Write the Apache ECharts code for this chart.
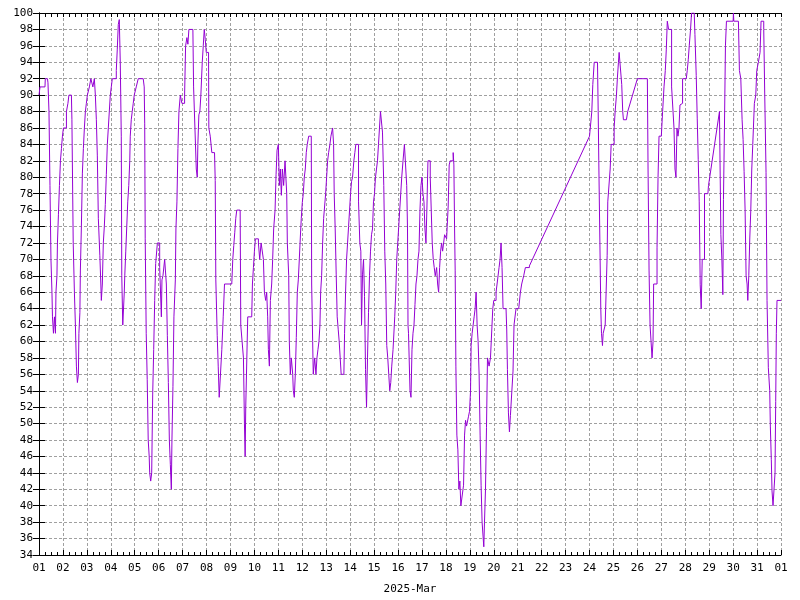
<!DOCTYPE html>
<html>
<head>
<meta charset="utf-8">
<script src="https://cdn.jsdelivr.net/npm/echarts@6/dist/echarts.min.js"></script>
<style>
html,body{margin:0;padding:0;background:#fff;}
#chart{width:800px;height:600px;}
</style>
</head>
<body>
<div id="chart"></div>
<script>
// Day tick labels (March 2025, then April 1)
const dayLabels = ['01','02','03','04','05','06','07','08','09','10','11','12','13','14','15','16',
  '17','18','19','20','21','22','23','24','25','26','27','28','29','30','31','01'];
const axisName = '2025-Mar';

// Hours since 2025-03-01 00:00
const hours = [
0,1,6,6.3,8.5,9,10,11,12,13,13.5,14.5,15.5,16.5,17,18,18.5,19.5,20.5,21.5,22.5,23.5,24.5,26.5,27.5,29,30,32.5,33,34.3,
35.5,36.5,37.5,38.5,39.5,40,41,41.5,42.5,43.5,44.5,45.5,46.5,47.5,48.5,50.5,52,54,55.5,56.5,57.5,58.5,59.5,60.5,61,62,62.5,63.5,
64.5,65.5,66.5,67.5,68.5,69.5,70.5,71.5,72.5,73.5,77.5,78.5,79.5,80.5,81.5,82.5,83,84,85.5,86,87,88,89,90,91,91.5,92.5,93.5,
94.5,95.5,97.5,99.5,104.5,105.5,106,106.5,107.5,108.5,109.5,110.5,111,112,113,114,115,116,117,118.7,121,122.7,123.3,124.3,
126,127.7,128.7,129.7,130.7,131.7,132.7,133.3,134.3,135.3,136.7,137.3,138.3,139.3,140.3,141.7,143.3,146,147,148.3,149.3,150.3,
154.3,155,157,157.7,158.7,159.3,160.3,161.3,162.3,163.7,164.7,165.7,166.7,167.7,170,170.3,171.7,173.3,176,176.7,177.3,178.7,
179.7,180.7,182.7,183.3,184.7,186,193.3,194.3,195.3,196.3,197.3,198.3,201.7,202.3,204.3,205,206,206.7,207.3,208.3,209.3,213.3,
214,215,216,217,220,221.3,222.7,224.3,225,226,227.3,228.3,229.3,230,231,232,233.3,234.3,235.3,236.7,237.7,238.7,240,241,242,
243,244,245.3,246.7,247.7,248.4,249,250.4,251,252,253,254.4,255,256,257,258,259,260,261,262,263,264,265,266,267,268,269,270.4,
273,273.4,274.4,275,276.4,277.7,278.7,279.7,280.7,281.7,282.4,283.4,284.4,285.4,286.4,287.4,288.4,289.4,290.4,291.7,292.7,
294.4,295.4,296,297,298,299,300,301,302,303,305.7,306.4,307.4,308.4,309.4,310.4,311.4,312.4,313.4,314.4,315.7,316.7,317.7,
319.4,320.4,321.7,322.7,323.4,324.4,325.4,326.4,327.4,328.4,329.4,330.4,331.4,332.4,333.4,334.4,335.4,336.4,337.4,338.4,
339.4,340.4,341.4,342.4,343.7,344.4,345.7,346.7,347.7,348.7,349.7,350.7,351.7,352.7,353.7,355,356.7,357.7,358.7,359.7,360.7,
361.7,362.7,363.7,365,366.4,368,368.7,369.5,370,370.5,372,373,374,375,376,377,378,379,380,381,382,383,384,385,386,387,388,
389,390,391.3,392.3,393.3,394.3,395.3,396.3,397.3,398.7,399.7,400.7,401.7,402.7,403.7,404.7,405.7,406.7,408.7,409.3,410.3,
411.3,412.3,413.3,414.3,415.3,416,416.7,417.3,418,419,420,421,422,423,425,425.7,426.7,427.7,428.7,429.7,430.7,431.7,432.7,
433.3,434.3,435.3,436.3,437.3,438.3,439.3,440.3,441.3,442.3,443.3,444.3,445.3,446,446.7,447.7,448.7,449.7,450.7,451.3,452.7,
454.3,455,456,457.3,458.3,459.3,461.3,462.3,463.3,464.3,465.3,468.3,469,469.7,470.7,471.7,472.7,474.7,475.3,476.3,478.3,481,
482.7,484,486,487.7,491.7,552,553.7,554.3,555.3,556.7,560,560.7,561.3,562.7,563.3,564,565,565.7,567.7,568.7,569.7,570.3,572,
572.7,573.7,575.7,576.7,577.7,579,580,581,581.7,583.7,584.3,585.3,586,589,590.3,600,610,610.7,611.7,612.7,613.7,614.7,615.7,
616.3,618,619.7,620.7,621.7,624,625.3,626.7,628,629,630,631.3,633.3,634.3,636,636.7,637.7,638.7,639.7,640.7,641.7,642.7,644,
645.3,649,650,651,652,653.3,654.3,657,657.7,659,660,661,662,663,664,665,666.3,667.3,670.7,671.3,682.3,683,683.7,684.7,685.7,
686.3,687.3,688.3,689.3,696,696.3,696.7,701.3,702.3,703.7,705,706,707,708,709,710,710.7,711.7,712.7,713.7,714.7,715.7,717.3,
718.7,719.7,721.3,723,724,725.7,726.7,727.7,729,730,731.3,732.7,733.3,734.3,735,736,737.3,738,738.7,739.3,740,744
];

// Relative humidity (%) at those hours
const humidity = [
90,91,91,92,92,91.5,88,79,70,66,63,61,63,61,66,68,72,75.5,79,82,83.5,85,86,86,88,89,90,90,87,72,
66,62,57,55,56,61,63.5,68.7,74,80.5,83.5,86,88,89,90,91,92,91,92,90,87,82.6,75,75,70.5,67,65,67,
72,74,76.7,80.3,84,86,88,90,91,92,93,95.6,98.6,99.2,94,85,68,62,66,68,71,74,77,79,82,85,87,88,
89,90,91,92,92,91,86.5,72.5,61,55.4,48,46,44,43,44,53.6,59,65,69.5,72,69,63,67.5,68,
70,67,60.7,55,48,45,42,48,54.5,63,67.5,73.7,77,83.5,88,90,89,90,96,97,96.2,98,
98,91,91,81,80,84,87.6,88,90,94,96,98,96.8,95.2,95.2,86,85,83,83,79.6,67.5,60.7,
57,53.2,53.2,59,63,67,67,70,71.7,73.3,75,76,76,62,62,58,50,46,52,57.5,63,63,
67,69,71,72.5,72,70,72,72,70,66,65,66,63,59,57,65,67,70,73.7,76,80.3,83.3,84,79,81,
77.8,81,79,82,82,78,72,68,60,56,58,56,54,53.2,56,60.5,66,67.5,70,72.6,75,76.9,78,80,81,83,84,85,
85,67,60,56,58,56,58,59,60,62,66,68,72,75,76.5,78,80,82,83,84,85,
86,84,78,73.7,68.2,63,61.5,60,58,56,56,61,66,70,72,74,76,78,79.5,80,82,83,84,
84,77,72,71,62,68.2,70,65.5,56.6,52,58,63.5,68,71,73,73.7,77,78,80,81,
82,84,86,88,88,85.5,79,71,67,59.5,58,56,54,55,57,59,63,66,70,72,74,
76,78,80,82,84,84,79,73.7,62,61,54,53.2,59,61,62,64.5,67,68,70,71,76,79,80,78,77,73.7,72,
76.5,82,82,80,76,72,70,69,68,69,67,66,69,71,72,71,72,73,72.5,74,76.5,
81.5,82,81.8,82,83,81.5,73.7,68.6,57,48.6,46.8,42,43,40,40,42.5,48.6,50.4,49.7,49.5,50.9,51.5,54,
59.5,61,62,63,64,66,62,60,56,48.6,42.5,38,36.2,35,38,42,49.5,58,58,57,58,
58,64,65,65,66,67,69,70,72,69,64,64,61.4,56.6,51.3,49,51,51,56.4,62,64,64,
66,67,68,69,69.2,85,85,88,91.3,94,94,88,82,82,64,61,59.5,61,62,62,70.5,77,77,
81,84,84,86,88,90,92.2,94,95.2,95.2,91.3,88,87,87,88,92,92,81,68.7,62,60,58,60,
67,67,71.4,80,85,85,88,91,93,95.6,99,98,98,91,91,86,81,80,86,85,86,88.8,89,
92,92,93,94.3,96,98,100,100,97.4,92.4,87.2,82.2,77,66.9,64,70,70,78,78,79,88,88,73,70,65.7,
77.3,86,96,99,99,100,99,99,93,92,87,84.6,80.7,76,68,67,65,68,72.6,76,81,84,89,
90,93,94,95.2,99,99,98,90,80.6,65,56.8,54,49.7,45.6,41.8,40,40,44,52.7,61,65,65
];

// Build stepped series; long gaps in the record are drawn as straight connectors
const stepData = [];
const gapData = [];
for (let i = 0; i < hours.length; i++) {
  stepData.push([hours[i], humidity[i]]);
  if (i < hours.length - 1) {
    const dh = hours[i + 1] - hours[i];
    if (dh > 8 && humidity[i + 1] !== humidity[i]) {
      stepData.push([hours[i] + 0.01, null]);
      gapData.push([hours[i], humidity[i]], [hours[i + 1], humidity[i + 1]], [hours[i + 1] + 0.01, null]);
    }
  }
}

const chart = echarts.init(document.getElementById('chart'), null, {renderer: 'canvas'});
const fontFam = '"DejaVu Sans Mono", "Liberation Mono", monospace';
const gridLine = {show: true, lineStyle: {color: '#a0a0a0', type: [3, 2], width: 1}};
const axisLine = {show: true, lineStyle: {color: '#000', width: 1}};

chart.setOption({
  animation: false,
  backgroundColor: '#ffffff',
  grid: {left: 39, right: 19, top: 13, bottom: 42, containLabel: false},
  xAxis: [{
    type: 'value', min: 0, max: 744, interval: 24, position: 'bottom',
    name: axisName, nameLocation: 'middle', nameGap: 29,
    nameTextStyle: {fontFamily: fontFam, fontSize: 11, color: '#000'},
    axisLine: axisLine,
    axisTick: {show: true, inside: true, length: 5, lineStyle: {color: '#000'}},
    minorTick: {show: true, splitNumber: 4, length: 3, lineStyle: {color: '#000'}},
    splitLine: gridLine,
    axisLabel: {fontFamily: fontFam, fontSize: 11, color: '#000', margin: 8,
      formatter: v => dayLabels[Math.round(v / 24)]}
  }, {
    type: 'value', min: 0, max: 744, interval: 24, position: 'top',
    axisLine: axisLine,
    axisTick: {show: true, inside: true, length: 4, lineStyle: {color: '#000'}},
    minorTick: {show: true, splitNumber: 4, length: 4, lineStyle: {color: '#000'}},
    splitLine: {show: false},
    axisLabel: {show: false}
  }],
  yAxis: [{
    type: 'value', min: 34, max: 100, interval: 2, position: 'left',
    axisLine: axisLine,
    axisTick: {show: true, inside: true, length: 6, lineStyle: {color: '#000'}},
    splitLine: gridLine,
    axisLabel: {fontFamily: fontFam, fontSize: 11, color: '#000', margin: 6}
  }, {
    type: 'value', min: 34, max: 100, interval: 2, position: 'right',
    axisLine: axisLine,
    axisTick: {show: true, inside: true, length: 6, lineStyle: {color: '#000'}},
    splitLine: {show: false},
    axisLabel: {show: false}
  }],
  series: [{
    type: 'line',
    data: stepData,
    step: 'end',
    connectNulls: false,
    xAxisIndex: 0, yAxisIndex: 0,
    showSymbol: false,
    symbol: 'none',
    lineStyle: {color: '#9400D3', width: 1},
    z: 5
  }, {
    type: 'line',
    data: gapData,
    connectNulls: false,
    xAxisIndex: 0, yAxisIndex: 0,
    showSymbol: false,
    symbol: 'none',
    lineStyle: {color: '#9400D3', width: 1},
    z: 5
  }]
});
</script>
</body>
</html>
